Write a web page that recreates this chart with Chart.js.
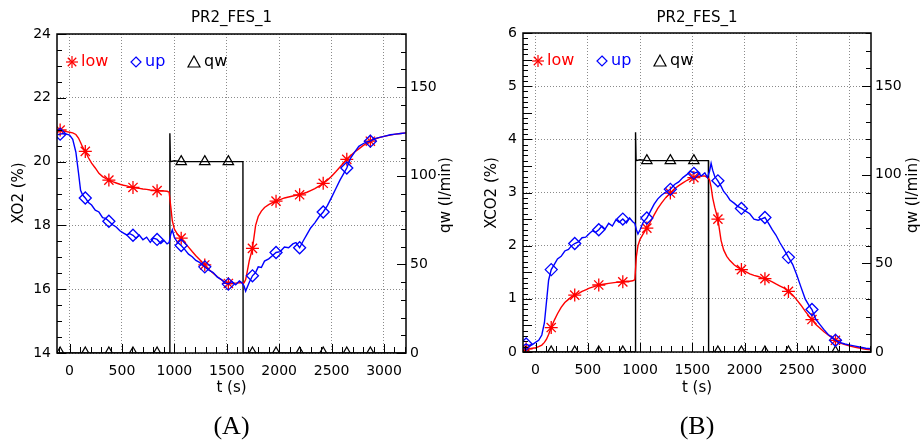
<!DOCTYPE html>
<html>
<head>
<meta charset="utf-8">
<script src="https://cdn.jsdelivr.net/npm/chart.js@4"></script>
<style>
  body { margin: 0; background: #fff; width: 920px; height: 441px; overflow: hidden; display: flex; }
  .pane { width: 460px; height: 441px; }
</style>
</head>
<body>
<div class="pane"><canvas id="chartA" width="460" height="441"></canvas></div>
<div class="pane"><canvas id="chartB" width="460" height="441"></canvas></div>
<script>
// --- data ---

// sample times (s), shared by the low / up probes of both panels
const times = [
  -115, -90, -60, -30, 0, 30, 60, 85, 105, 125,
  150, 180, 210, 245, 280, 315, 345, 375, 410, 445,
  480, 515, 545, 575, 605, 635, 665, 700, 735, 770,
  800, 835, 870, 900, 930, 950, 965, 980, 1000, 1030,
  1065, 1100, 1135, 1170, 1205, 1240, 1290, 1330, 1370, 1410,
  1450, 1480, 1515, 1550, 1585, 1620, 1645, 1665, 1680, 1695,
  1715, 1745, 1775, 1800, 1830, 1860, 1900, 1935, 1970, 2010,
  2050, 2090, 2130, 2160, 2195, 2230, 2265, 2300, 2340, 2380,
  2420, 2460, 2500, 2540, 2580, 2615, 2645, 2680, 2720, 2760,
  2800, 2835, 2870, 2910, 2960, 3010, 3060, 3110, 3160, 3210
];
// times where a symbol is plotted
const markTimes = [-90, 150, 375, 605, 835, 1065, 1290, 1515, 1745, 1970, 2195, 2420, 2645, 2870];

// (A) XO2 (%)
const lowA = [
  21.0, 20.99, 20.96, 20.94, 20.92, 20.9, 20.85, 20.74, 20.6, 20.45,
  20.32, 20.12, 19.95, 19.8, 19.63, 19.53, 19.47, 19.42, 19.37, 19.33,
  19.29, 19.26, 19.24, 19.21, 19.19, 19.17, 19.16, 19.14, 19.13, 19.11,
  19.1, 19.09, 19.08, 19.08, 19.07, 19.04, 18.6, 18.15, 17.88, 17.72,
  17.6, 17.45, 17.32, 17.18, 17.05, 16.93, 16.76, 16.62, 16.5, 16.39,
  16.29, 16.23, 16.18, 16.17, 16.19, 16.2, 16.2, 16.2, 16.3, 16.55,
  16.9, 17.28, 18.0, 18.28, 18.45, 18.56, 18.65, 18.71, 18.76, 18.81,
  18.86, 18.89, 18.92, 18.94, 18.96, 19.0, 19.04, 19.09, 19.15, 19.23,
  19.32, 19.42, 19.54, 19.68, 19.83, 19.96, 20.07, 20.18, 20.3, 20.4,
  20.5, 20.58, 20.64, 20.7, 20.76, 20.8, 20.83, 20.86, 20.88, 20.9
];
const upA = [
  20.84, 20.86, 20.88, 20.86, 20.83, 20.7, 20.3, 19.65, 19.1, 18.95,
  18.86, 18.72, 18.64, 18.48, 18.42, 18.24, 18.22, 18.13, 18.02, 17.95,
  17.83, 17.76, 17.7, 17.74, 17.69, 17.6, 17.7, 17.55, 17.63, 17.47,
  17.6, 17.56, 17.43, 17.53, 17.42, 17.46, 17.72, 17.86, 17.62, 17.47,
  17.37, 17.24, 17.1, 17.02, 16.9, 16.84, 16.7, 16.6, 16.52, 16.38,
  16.3, 16.2, 16.16, 16.24, 16.14, 16.26, 16.2, 16.1, 15.94, 16.06,
  16.22, 16.42, 16.52, 16.7, 16.68, 16.88, 16.95, 17.05, 17.15, 17.18,
  17.32, 17.3, 17.42, 17.46, 17.3, 17.52, 17.72, 17.92, 18.08, 18.27,
  18.42, 18.62, 18.88, 19.15, 19.42, 19.62, 19.8, 20.1, 20.3, 20.48,
  20.56, 20.62, 20.64, 20.72, 20.76, 20.8, 20.84, 20.86, 20.88, 20.9
];

// (B) XCO2 (%)
const lowB = [
  0.05, 0.06, 0.06, 0.07, 0.08, 0.1, 0.13, 0.18, 0.24, 0.33,
  0.46, 0.6, 0.72, 0.84, 0.93, 0.99, 1.04, 1.07, 1.1, 1.14,
  1.17, 1.2, 1.22, 1.24, 1.26, 1.27, 1.28, 1.29, 1.3, 1.31,
  1.31, 1.32, 1.33, 1.33, 1.34, 1.36, 1.8, 2.0, 2.12, 2.22,
  2.33, 2.45, 2.58, 2.7, 2.8, 2.89, 2.99, 3.07, 3.13, 3.18,
  3.23, 3.26, 3.28, 3.3, 3.31, 3.31, 3.28, 3.24, 3.1, 2.9,
  2.72, 2.5, 2.1, 1.92, 1.8, 1.72, 1.64, 1.59, 1.55, 1.51,
  1.47, 1.44, 1.42, 1.4, 1.38, 1.35, 1.32, 1.28, 1.24, 1.2,
  1.14, 1.07, 0.98, 0.88, 0.77, 0.68, 0.61, 0.52, 0.45, 0.38,
  0.32, 0.27, 0.22, 0.17, 0.14, 0.11, 0.09, 0.07, 0.05, 0.04
];
const upB = [
  0.12, 0.15, 0.12, 0.14, 0.18, 0.22, 0.32, 0.55, 0.95, 1.35,
  1.55, 1.65, 1.75, 1.8, 1.9, 1.93, 2.0, 2.04, 2.07, 2.15,
  2.16, 2.23, 2.28, 2.25, 2.3, 2.37, 2.31, 2.42, 2.37, 2.49,
  2.44, 2.5, 2.43, 2.52, 2.45, 2.42, 2.3, 2.22, 2.3, 2.44,
  2.52, 2.65, 2.78, 2.88, 2.95, 3.0, 3.06, 3.15, 3.2, 3.28,
  3.34, 3.4, 3.36, 3.39, 3.31, 3.37, 3.28, 3.4, 3.55, 3.42,
  3.3, 3.22, 3.12, 3.02, 2.95, 2.86, 2.8, 2.74, 2.7, 2.65,
  2.6, 2.5, 2.48, 2.5, 2.53, 2.42, 2.3, 2.2, 2.05, 1.92,
  1.78, 1.65, 1.45, 1.22, 1.0, 0.88, 0.8, 0.62, 0.52, 0.42,
  0.33, 0.28, 0.22, 0.18, 0.15, 0.13, 0.11, 0.09, 0.07, 0.06
];

// water flow qw (l/min), same in both panels
const qwTimes = [-120, -90, 150, 375, 605, 835, 955, 957, 962, 1000, 1065, 1290, 1515, 1654, 1656, 1745, 1970, 2195, 2420, 2645, 2870, 3210];
const qwVals  = [0, 0, 0, 0, 0, 0, 0, 124, 108, 108.5, 108, 108, 108, 108, 0, 0, 0, 0, 0, 0, 0, 0];

// tick labels
const xTicks = [0, 500, 1000, 1500, 2000, 2500, 3000];
const yTicksA = [14, 16, 18, 20, 22, 24];
const yTicksB = [0, 1, 2, 3, 4, 5, 6];
const qwTicks = [0, 50, 100, 150];

const RED = 'rgb(255,0,0)';
const BLUE = 'rgb(0,0,255)';
const FONT = '"DejaVu Sans", sans-serif';

const toPts = (xs, ys) => xs.map((t, i) => ({ x: t, y: ys[i] }));
const markR = r => c => (c.raw && markTimes.includes(c.raw.x)) ? r : 0;

// frame, inward IDL style ticks, inside legend and all titles
const idlDecor = {
  id: 'idlDecor',
  afterDraw(chart, args, o) {
    const { ctx, chartArea: a, scales } = chart;
    ctx.save();
    ctx.strokeStyle = '#000';
    ctx.lineWidth = 1;
    const line = (x1, y1, x2, y2) => { ctx.beginPath(); ctx.moveTo(x1, y1); ctx.lineTo(x2, y2); ctx.stroke(); };
    const isMajor = (v, m) => Math.abs(v / m - Math.round(v / m)) < 1e-6;

    // left axis minor ticks
    const sy = scales.y;
    let n = Math.round((sy.max - sy.min) / o.yMinor);
    for (let i = 0; i <= n; i++) {
      const v = sy.min + i * o.yMinor;
      const p = Math.round(sy.getPixelForValue(v)) + 0.5;
      line(a.left, p, a.left + (isMajor(v, o.yMajor) ? 9 : 5), p);
    }
    // right axis ticks
    const s2 = scales.y2;
    for (let v = 0; v <= s2.max; v += 10) {
      const p = Math.round(s2.getPixelForValue(v)) + 0.5;
      line(a.right, p, a.right - (isMajor(v, 50) ? 9 : 5), p);
    }
    // bottom axis ticks
    const sx = scales.x;
    for (let v = Math.ceil(sx.min / 100) * 100; v <= sx.max; v += 100) {
      const p = Math.round(sx.getPixelForValue(v)) + 0.5;
      line(p, a.bottom, p, a.bottom - (isMajor(v, 500) ? 9 : 6));
    }

    // frame
    ctx.lineWidth = 1.5;
    ctx.strokeRect(a.left, a.top, a.width, a.height);

    // legend inside the plot
    const ly = a.top + 28;
    ctx.lineWidth = 1.2;
    ctx.font = '16px ' + FONT;
    ctx.textBaseline = 'middle';
    ctx.textAlign = 'left';
    // asterisk
    let cx = a.left + 15;
    ctx.strokeStyle = RED;
    for (let k = 0; k < 4; k++) {
      const ang = k * Math.PI / 4;
      line(cx - 6 * Math.cos(ang), ly - 6 * Math.sin(ang), cx + 6 * Math.cos(ang), ly + 6 * Math.sin(ang));
    }
    ctx.fillStyle = RED;
    ctx.fillText('low', cx + 9, ly);
    // diamond
    cx = a.left + 79;
    ctx.strokeStyle = BLUE;
    ctx.beginPath();
    ctx.moveTo(cx, ly - 5); ctx.lineTo(cx + 5, ly); ctx.lineTo(cx, ly + 5); ctx.lineTo(cx - 5, ly); ctx.closePath();
    ctx.stroke();
    ctx.fillStyle = BLUE;
    ctx.fillText('up', cx + 9, ly);
    // triangle
    cx = a.left + 137;
    ctx.strokeStyle = '#000';
    ctx.beginPath();
    ctx.moveTo(cx, ly - 6); ctx.lineTo(cx + 6, ly + 5); ctx.lineTo(cx - 6, ly + 5); ctx.closePath();
    ctx.stroke();
    ctx.fillStyle = '#000';
    ctx.fillText('qw', cx + 10, ly);

    // titles
    const mid = (a.left + a.right) / 2;
    ctx.textAlign = 'center';
    ctx.font = '15px ' + FONT;
    ctx.fillText(o.title, mid, 18);
    ctx.fillText('t (s)', mid, 388);
    ctx.save();
    ctx.translate(o.yTitleX, 193);
    ctx.rotate(-Math.PI / 2);
    ctx.fillText(o.yTitle, 0, 0);
    ctx.restore();
    ctx.save();
    ctx.translate(a.right + o.qwTitleDx, 195);
    ctx.rotate(-Math.PI / 2);
    ctx.fillText('qw (l/min)', 0, 0);
    ctx.restore();
    ctx.font = '26px "Liberation Serif", serif';
    ctx.fillText(o.panel, mid, 427);
    ctx.restore();
  }
};

function makePanel(canvasId, low, up, yMin, yMax, yTicks, geo, deco) {
  const tickFont = { family: FONT, size: 14 };
  const grid = { color: '#8a8a8a', lineWidth: 1, drawTicks: false };
  const plain = v => String(v);
  return new Chart(document.getElementById(canvasId), {
    type: 'line',
    data: {
      datasets: [
        {
          label: 'qw', data: toPts(qwTimes, qwVals), yAxisID: 'y2',
          borderColor: '#000', borderWidth: 1.4, tension: 0,
          pointStyle: 'triangle', pointRadius: markR(6), pointHoverRadius: 0,
          pointBorderColor: '#000', pointBackgroundColor: 'rgba(0,0,0,0)', pointBorderWidth: 1.2,
          order: 3
        },
        {
          label: 'low', data: toPts(times, low), yAxisID: 'y',
          borderColor: RED, borderWidth: 1.4, tension: 0,
          pointStyle: 'star', pointRadius: markR(6.5), pointHoverRadius: 0,
          pointBorderColor: RED, pointBackgroundColor: 'rgba(0,0,0,0)', pointBorderWidth: 1.3,
          order: 2
        },
        {
          label: 'up', data: toPts(times, up), yAxisID: 'y',
          borderColor: BLUE, borderWidth: 1.4, tension: 0,
          pointStyle: 'rectRot', pointRadius: markR(6), pointHoverRadius: 0,
          pointBorderColor: BLUE, pointBackgroundColor: 'rgba(0,0,0,0)', pointBorderWidth: 1.3,
          order: 1
        }
      ]
    },
    options: {
      responsive: false,
      animation: false,
      devicePixelRatio: 1,
      layout: { padding: { top: geo.top, left: 0, right: 0, bottom: 0 } },
      plugins: { legend: { display: false }, tooltip: { enabled: false }, idlDecor: deco },
      scales: {
        x: {
          type: 'linear', min: -120, max: 3210,
          afterBuildTicks: s => { s.ticks = xTicks.map(v => ({ value: v })); },
          afterFit: s => { s.height = geo.xHeight; },
          grid: grid,
          border: { display: false, dash: [1, 2] },
          ticks: { font: tickFont, color: '#000', padding: 10, maxRotation: 0, autoSkip: false, callback: plain }
        },
        y: {
          position: 'left', min: yMin, max: yMax,
          afterBuildTicks: s => { s.ticks = yTicks.map(v => ({ value: v })); },
          afterFit: s => { s.width = geo.left; },
          grid: grid,
          border: { display: false, dash: [1, 2] },
          ticks: { font: tickFont, color: '#000', padding: 6, callback: plain }
        },
        y2: {
          position: 'right', min: 0, max: 180,
          afterBuildTicks: s => { s.ticks = qwTicks.map(v => ({ value: v })); },
          afterFit: s => { s.width = geo.right; },
          grid: { display: false, drawTicks: false },
          border: { display: false },
          ticks: { font: tickFont, color: '#000', padding: 4, callback: plain }
        }
      }
    },
    plugins: [idlDecor]
  });
}

makePanel('chartA', lowA, upA, 14, 24, yTicksA,
  { top: 34, left: 57, right: 54, xHeight: 88 },
  { title: 'PR2_FES_1', yTitle: 'XO2 (%)', yTitleX: 19, qwTitleDx: 40, panel: '(A)', yMinor: 0.5, yMajor: 2 });
makePanel('chartB', lowB, upB, 0, 6, yTicksB,
  { top: 33, left: 63, right: 49, xHeight: 89 },
  { title: 'PR2_FES_1', yTitle: 'XCO2 (%)', yTitleX: 32, qwTitleDx: 42, panel: '(B)', yMinor: 0.1, yMajor: 0.5 });
</script>
</body>
</html>
